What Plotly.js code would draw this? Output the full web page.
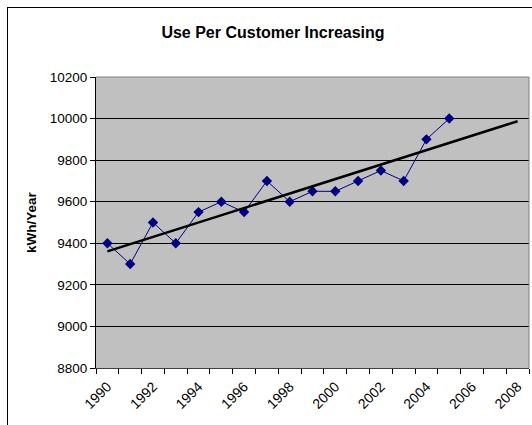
<!DOCTYPE html>
<html>
<head>
<meta charset="utf-8">
<script src="https://cdn.plot.ly/plotly-3.0.1.min.js"></script>
<style>
  html, body { margin: 0; padding: 0; background: #fff; overflow: hidden; }
  #wrap { position: relative; width: 532px; height: 425px; }
  #chart { width: 532px; height: 425px; }
  #frame { position: absolute; left: 7px; top: 7px; width: 600px; height: 500px;
           border-left: 1px solid #000; border-top: 1px solid #000; pointer-events: none; }
</style>
</head>
<body>
<div id="wrap">
  <div id="chart"></div>
  <div id="frame"></div>
</div>
<script>
// Data
const years = [1990, 1991, 1992, 1993, 1994, 1995, 1996, 1997, 1998, 1999,
               2000, 2001, 2002, 2003, 2004, 2005];
const usage = [9400, 9300, 9500, 9400, 9550, 9600, 9550, 9700, 9600, 9650,
               9650, 9700, 9750, 9700, 9900, 10000];
const trendYears = [1990, 2008];          // linear trend, forecast to 2008
const tickLabelYears = [1990, 1992, 1994, 1996, 1998, 2000, 2002, 2004, 2006, 2008];

// Least-squares linear trend from the data (as the original trendline)
const n = years.length;
const mx = years.reduce((a, b) => a + b, 0) / n;
const my = usage.reduce((a, b) => a + b, 0) / n;
let sxy = 0, sxx = 0;
for (let i = 0; i < n; i++) { sxy += (years[i] - mx) * (usage[i] - my); sxx += (years[i] - mx) ** 2; }
const slope = sxy / sxx;
const trendVals = trendYears.map(x => my + slope * (x - mx));

const font = 'Arial, "Liberation Sans", sans-serif';

const traces = [
  {
    x: years, y: usage, type: 'scatter', mode: 'lines+markers',
    line: { color: '#000080', width: 1 },
    marker: { symbol: 'diamond', size: 8, color: '#000080' },
    hoverinfo: 'x+y', showlegend: false
  },
  {
    x: trendYears, y: trendVals, type: 'scatter', mode: 'lines',
    line: { color: '#000000', width: 2.5 },
    hoverinfo: 'skip', showlegend: false
  }
];

const layout = {
  width: 532, height: 425,
  margin: { l: 96, r: 3, t: 77, b: 57 },
  paper_bgcolor: '#ffffff',
  plot_bgcolor: '#c0c0c0',
  font: { family: font, color: '#000', size: 13.5 },
  title: {
    text: '<b>Use Per Customer Increasing</b>',
    font: { family: font, size: 16, color: '#000' },
    x: 273 / 532, xanchor: 'center', xref: 'container',
    y: 1 - 32 / 425, yanchor: 'middle', yref: 'container'
  },
  xaxis: {
    type: 'linear',
    range: [1989.5, 2008.5],
    tickmode: 'array',
    tickvals: tickLabelYears,
    ticktext: tickLabelYears.map(String),
    ticks: '', tickangle: -45, ticklabelstandoff: 4,
    tickfont: { family: font, size: 14, color: '#000' },
    showgrid: false, zeroline: false,
    showline: true, linecolor: '#404040', linewidth: 1,
    minor: { tickmode: 'linear', tick0: 1989.5, dtick: 1, ticks: 'outside', ticklen: 5, tickcolor: '#000', showgrid: false }
  },
  yaxis: {
    title: { text: '<b>kWh/Year</b>', font: { family: font, size: 13.5, color: '#000' }, standoff: 10 },
    range: [8800, 10200],
    dtick: 200, tick0: 8800, tickformat: 'd',
    ticks: 'outside', ticklen: 5, tickcolor: '#000',
    tickfont: { family: font, size: 13.5, color: '#000' },
    showgrid: true, gridcolor: '#000', gridwidth: 1,
    zeroline: false,
    showline: true, linecolor: '#000', linewidth: 1
  },
  shapes: [
    { type: 'line', xref: 'paper', yref: 'paper', x0: 0, x1: 1, y0: 1, y1: 1, line: { color: '#808080', width: 1 } },
    { type: 'line', xref: 'paper', yref: 'paper', x0: 1, x1: 1, y0: 0, y1: 1, line: { color: '#808080', width: 1 } }
  ]
};

Plotly.newPlot('chart', traces, layout, { displayModeBar: false, staticPlot: true });
</script>
</body>
</html>
